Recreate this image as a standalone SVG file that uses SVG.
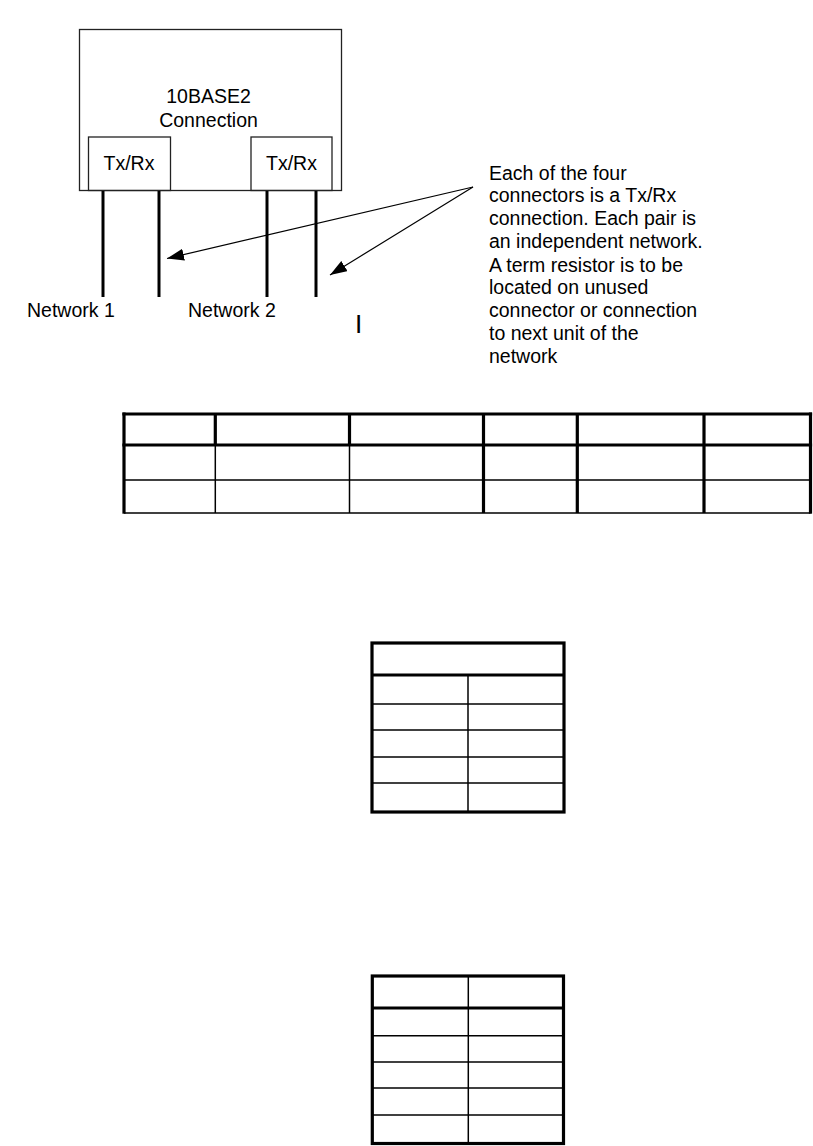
<svg xmlns="http://www.w3.org/2000/svg" width="813" height="1146" viewBox="0 0 813 1146">
<style>
text{font-family:"Liberation Sans",Arial,sans-serif;font-size:19.5px;fill:#000}
.box{fill:none;stroke:#222;stroke-width:1.3}
.wire{stroke:#000;stroke-width:3}
.conn{stroke:#000;stroke-width:1.2;fill:none}
.thick{stroke:#000;stroke-width:3.2;fill:none}
.thin{stroke:#000;stroke-width:1.5;fill:none}
</style>
<defs>
<marker id="arr" viewBox="0 0 17 12" refX="17" refY="6" markerWidth="17" markerHeight="12" markerUnits="userSpaceOnUse" orient="auto">
<path d="M0,0 L17,6 L0,12 Z" fill="#000"/>
</marker>
</defs>
<rect width="813" height="1146" fill="#fff"/>

<g id="unit">
<rect class="box" x="79.5" y="29.5" width="262" height="161"/>
<text x="208.5" y="103" text-anchor="middle">10BASE2</text>
<text x="208.5" y="127" text-anchor="middle">Connection</text>
</g>
<g id="txrx1">
<rect class="box" x="88.5" y="137" width="82" height="53.5"/>
<text x="129" y="170" text-anchor="middle">Tx/Rx</text>
</g>
<g id="txrx2">
<rect class="box" x="251" y="137" width="81" height="53.5"/>
<text x="291.5" y="170" text-anchor="middle">Tx/Rx</text>
</g>
<g id="wires">
<line class="wire" x1="103" y1="191" x2="103" y2="297"/>
<line class="wire" x1="159" y1="191" x2="159" y2="297"/>
<line class="wire" x1="267" y1="191" x2="267" y2="297"/>
<line class="wire" x1="316" y1="191" x2="316" y2="297"/>
</g>
<g id="labels">
<text x="27" y="317">Network 1</text>
<text x="188" y="317">Network 2</text>
<text x="355" y="333" style="font-size:26px">I</text>
</g>
<g id="note">
<text x="489">
<tspan x="489" y="180">Each of the four</tspan>
<tspan x="489" y="202">connectors is a Tx/Rx</tspan>
<tspan x="489" y="225">connection. Each pair is</tspan>
<tspan x="489" y="248">an independent network.</tspan>
<tspan x="489" y="272">A term resistor is to be</tspan>
<tspan x="489" y="294">located on unused</tspan>
<tspan x="489" y="317">connector or connection</tspan>
<tspan x="489" y="340">to next unit of the</tspan>
<tspan x="489" y="363">network</tspan>
</text>
</g>
<g id="connectors">
<line class="conn" x1="473" y1="187" x2="167" y2="258.5" marker-end="url(#arr)"/>
<line class="conn" x1="473" y1="187" x2="330" y2="275" marker-end="url(#arr)"/>
</g>

<g id="table1">
<line class="thin" x1="124" y1="480" x2="810.5" y2="480"/>
<line class="thin" x1="124" y1="513" x2="810.5" y2="513"/>
<line class="thin" x1="215.3" y1="445" x2="215.3" y2="513"/>
<line class="thin" x1="349.5" y1="445" x2="349.5" y2="513"/>
<line class="thick" x1="215.3" y1="414" x2="215.3" y2="445"/>
<line class="thick" x1="349.5" y1="414" x2="349.5" y2="445"/>
<line class="thick" x1="483.5" y1="414" x2="483.5" y2="513"/>
<line class="thick" x1="577.3" y1="414" x2="577.3" y2="513"/>
<line class="thick" x1="704" y1="414" x2="704" y2="513"/>
<line class="thick" x1="124" y1="412.5" x2="124" y2="513.7"/>
<line class="thick" x1="810.5" y1="412.5" x2="810.5" y2="513.7"/>
<line class="thick" x1="122.4" y1="414" x2="812.1" y2="414"/>
<line class="thick" x1="122.4" y1="445" x2="812.1" y2="445"/>
</g>

<g id="table2">
<line class="thin" x1="372" y1="704" x2="564" y2="704"/>
<line class="thin" x1="372" y1="730" x2="564" y2="730"/>
<line class="thin" x1="372" y1="757" x2="564" y2="757"/>
<line class="thin" x1="372" y1="783" x2="564" y2="783"/>
<line class="thin" x1="468" y1="675" x2="468" y2="812"/>
<line class="thick" x1="372" y1="675" x2="564" y2="675"/>
<rect class="thick" x="372" y="643" width="192" height="169"/>
</g>

<g id="table3">
<line class="thin" x1="372" y1="1035.7" x2="563.5" y2="1035.7"/>
<line class="thin" x1="372" y1="1062" x2="563.5" y2="1062"/>
<line class="thin" x1="372" y1="1088" x2="563.5" y2="1088"/>
<line class="thin" x1="372" y1="1115" x2="563.5" y2="1115"/>
<line class="thin" x1="468.3" y1="976" x2="468.3" y2="1143.5"/>
<line class="thick" x1="372" y1="1008" x2="563.5" y2="1008"/>
<rect class="thick" x="372.3" y="976" width="191.2" height="167.5"/>
</g>
</svg>
